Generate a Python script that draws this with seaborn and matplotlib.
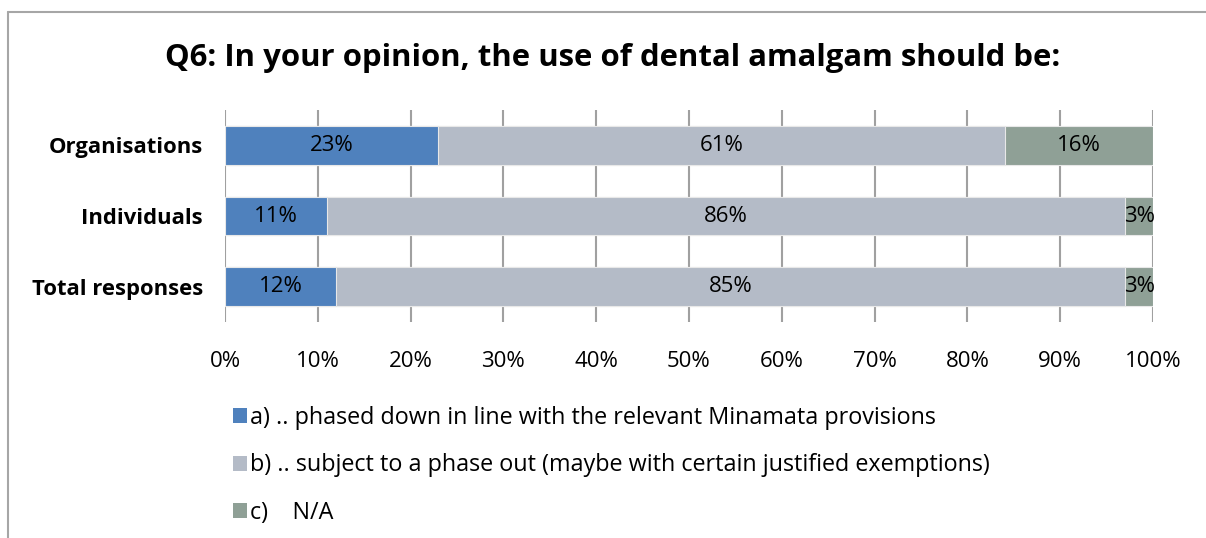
import numpy as np
import pandas as pd
import matplotlib.pyplot as plt
from matplotlib.lines import Line2D
from matplotlib.patches import Patch
import seaborn as sns

# Data (percent of responses)
groups = ["Organisations", "Individuals", "Total responses"]
phased_down = [23, 11, 12]
phase_out = [61, 86, 85]
not_applicable = [16, 3, 3]
legend_labels = [
    "a) .. phased down in line with the relevant Minamata provisions",
    "b) .. subject to a phase out (maybe with certain justified exemptions)",
    "c)    N/A",
]
colors = ["#4F81BD", "#B4BBC7", "#8FA096"]

sns.set_theme(style="white")
plt.rcParams["font.family"] = ["Open Sans", "DejaVu Sans"]
plt.rcParams["text.color"] = "black"
plt.rcParams["xtick.color"] = "black"
plt.rcParams["ytick.color"] = "black"

df = pd.DataFrame({"group": groups, "a": phased_down, "b": phase_out, "c": not_applicable})
df["ab"] = df["a"] + df["b"]
df["abc"] = df["ab"] + df["c"]

fig = plt.figure(figsize=(12.06, 5.38), dpi=100)
ax = fig.add_axes([225 / 1206, 1 - 322 / 538, 928 / 1206, 212 / 538])

# stacked bars by overlaying cumulative totals
for col, c in zip(["abc", "ab", "a"], colors[::-1]):
    sns.barplot(data=df, y="group", x=col, color=c, orient="h", width=0.55,
                saturation=1, ax=ax, zorder=3, edgecolor="#E8E8E8", linewidth=0.8)

ax.set_xlim(0, 100)
ax.set_ylim(2.5, -0.5)
ax.set_xticks(np.arange(0, 101, 10))
ax.set_xticklabels([f"{t}%" for t in range(0, 101, 10)], fontsize=16)
ax.tick_params(axis="x", length=0, pad=21)
ax.tick_params(axis="y", length=0, pad=16)
ax.set_yticks(range(len(groups)))
ax.set_yticklabels(groups, fontsize=15.8, fontweight="bold")
ax.set_xlabel("")
ax.set_ylabel("")
ax.grid(axis="x", color="#A0A0A0", linewidth=1.5, zorder=0)
for s in ax.spines.values():
    s.set_visible(False)

# value labels centred in each segment
for i in range(len(groups)):
    starts = [0, df["a"][i], df["ab"][i]]
    vals = [df["a"][i], df["b"][i], df["c"][i]]
    for st, v in zip(starts, vals):
        ax.text(st + v / 2, i, f"{v}%", ha="center", va="center",
                fontsize=16, color="black", zorder=5)

fig.text(0.5 + 0.008, 1 - 58 / 538, "Q6: In your opinion, the use of dental amalgam should be:",
         ha="center", va="center", fontsize=22.4, fontweight="bold")

handles = [Patch(facecolor=c, edgecolor="none") for c in colors]
fig.legend(handles, legend_labels, loc="upper left", bbox_to_anchor=(212 / 1206, 1 - 385 / 538),
           frameon=False, fontsize=16.8, handlelength=0.6, handleheight=0.6,
           handletextpad=0.15, labelspacing=1.0)

# outer chart frame (top and left edges)
fig.add_artist(Line2D([8 / 1206, 8 / 1206], [0, 1 - 12 / 538], color="#A6A6A6", linewidth=1.5))
fig.add_artist(Line2D([8 / 1206, 1], [1 - 12 / 538, 1 - 12 / 538], color="#A6A6A6", linewidth=1.5))

fig.savefig("out.png", dpi=100)
